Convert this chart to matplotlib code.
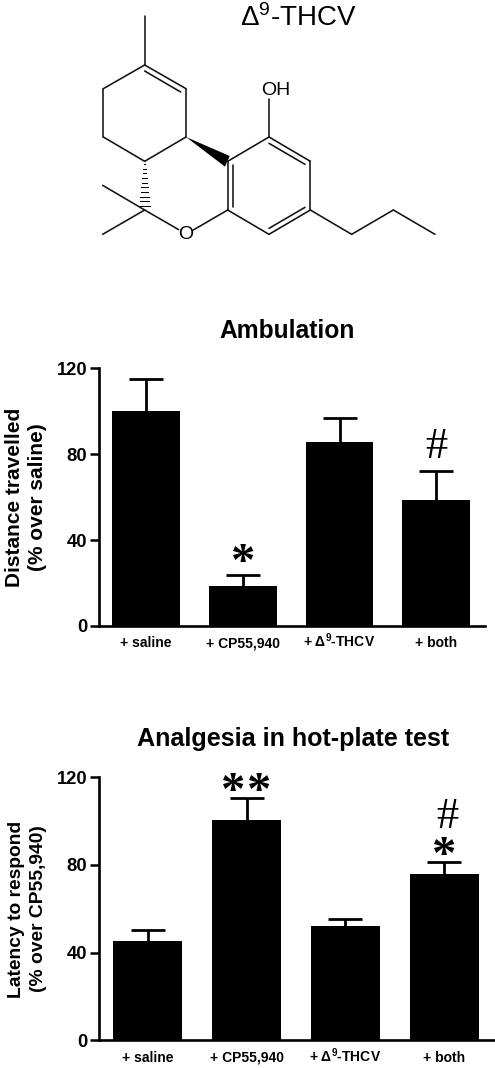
import numpy as np
import matplotlib
matplotlib.use("Agg")
import matplotlib.pyplot as plt

plt.rcParams["font.family"] = ["Liberation Sans", "DejaVu Sans"]
plt.rcParams["mathtext.fontset"] = "custom"
plt.rcParams["mathtext.rm"] = "Liberation Sans"
plt.rcParams["mathtext.bf"] = "Liberation Sans:bold"
plt.rcParams["mathtext.default"] = "regular"

W, H = 495, 1068

categories = ["+ saline", "+ CP55,940", "+ \u0394$^{\\mathbf{9}}$-THCV", "+ both"]
y_ticks = [0, 40, 80, 120]

ambulation = [100, 18.5, 85.5, 58.5]
ambulation_err = [15, 5.3, 11.2, 13.5]
ambulation_marks = [None, "*", None, "#"]

analgesia = [45.3, 100.3, 52, 76]
analgesia_err = [5, 10.1, 3.5, 5.2]
analgesia_marks = [None, "**", None, "#*"]

# molecule drawing, in pixels of the crop at 3x
ring_bonds = [
    ((254, 48), (254, 195)), ((254, 195), (378, 266)), ((378, 266), (378, 411)),
    ((378, 411), (254, 484)), ((254, 484), (130, 411)), ((130, 411), (130, 266)),
    ((130, 266), (254, 195)), ((254, 213), (362, 276)),
    ((254, 630), (128, 556)), ((254, 630), (128, 703)), ((254, 630), (356, 689)),
    ((400, 690), (503, 630)),
    ((503, 484), (627, 411)), ((627, 411), (751, 484)), ((751, 484), (751, 630)),
    ((751, 630), (627, 703)), ((627, 703), (503, 630)), ((503, 630), (503, 484)),
    ((627, 430), (735, 493)), ((735, 622), (627, 685)), ((518, 495), (518, 620)),
    ((627, 411), (627, 298)),
    ((751, 630), (875, 703)), ((875, 703), (1000, 630)), ((1000, 630), (1125, 703)),
]
wedge = [(378, 411), (509, 468), (495, 500)]
hash_top = (254, 484)
hash_bottom = (254, 618)


def crop_px(p):
    return p[0] / 3 + 60, p[1] / 3


def put_mark(ax, x, base, text, dx, dy, size, weight="normal"):
    ax.annotate(text, (x, base), xytext=(dx, dy), textcoords="offset points", ha="center",
                va="baseline", fontsize=size, fontweight=weight, family="Liberation Serif",
                annotation_clip=False)


def add_panel(fig, box, xlim, values, errs, marks, width, star_dy):
    left, right, bottom, top = box
    ax = fig.add_axes([left / W, 1 - bottom / H, (right - left) / W, (bottom - top) / H])
    ax.patch.set_alpha(0)
    x = np.arange(len(values))
    tops = np.array(values) + np.array(errs)
    ax.bar(x, values, width=width, color="black", zorder=3)
    ax.vlines(x, values, tops, color="black", lw=2, zorder=2)
    ax.plot(x, tops, ls="none", marker="_", ms=25, mew=2, color="black", clip_on=False, zorder=2)
    ax.set_xlim(*xlim)
    ax.set_ylim(0, 120)
    ax.set_xticks([])
    ax.set_yticks(y_ticks)
    ax.tick_params(axis="y", length=6.5, width=1.8, pad=2, labelsize=13.2)
    for label in ax.get_yticklabels():
        label.set_fontweight("bold")
    for side in ["top", "right"]:
        ax.spines[side].set_visible(False)
    for side in ["left", "bottom"]:
        ax.spines[side].set_linewidth(1.9)
    for i, name in enumerate(categories):
        ax.annotate(name, (x[i], 0), xytext=(0, -15.3), textcoords="offset points", ha="center",
                    va="baseline", fontsize=10, fontweight="bold", annotation_clip=False)
    for i, mark in enumerate(marks):
        if mark == "*":
            put_mark(ax, x[i], tops[i], "*", 0, star_dy, 35, "bold")
        elif mark == "**":
            put_mark(ax, x[i], tops[i], "*", -9.4, star_dy, 35, "bold")
            put_mark(ax, x[i], tops[i], "*", 9.4, star_dy, 35, "bold")
        elif mark == "#":
            put_mark(ax, x[i], tops[i], "#", 0, 9.6, 32)
        elif mark == "#*":
            put_mark(ax, x[i], tops[i], "*", 0, star_dy, 35, "bold")
            put_mark(ax, x[i], tops[i], "#", 2, 24.5, 32)
    return ax


fig = plt.figure(figsize=(W / 100, H / 100), dpi=100)

# molecule
mol = fig.add_axes([0, 0, 1, 1])
mol.set_xlim(0, W)
mol.set_ylim(H, 0)
mol.axis("off")
for a, b in ring_bonds:
    ax_, ay_ = crop_px(a)
    bx_, by_ = crop_px(b)
    mol.plot([ax_, bx_], [ay_, by_], color="#111111", lw=1.15, solid_capstyle="round")
mol.fill(*zip(*[crop_px(p) for p in wedge]), color="black", lw=0)
for t in np.linspace(0.06, 1, 10):
    cx, cy = crop_px((hash_top[0], hash_top[1] + t * (hash_bottom[1] - hash_top[1])))
    half = 0.5 + 4.8 * t
    mol.plot([cx - half, cx + half], [cy, cy], color="black", lw=0.75)
ox, oy = crop_px((377, 704))
mol.text(ox, oy, "O", ha="center", va="center", fontsize=14)
hx, hy = crop_px((647, 271))
mol.text(hx, hy, "OH", ha="center", va="center", fontsize=14)
mol.text(299, 26, "\u0394$^{9}$-THCV", ha="center", va="baseline", fontsize=20)

add_panel(fig, (99, 485, 626, 368.3), (-0.488, 3.505), ambulation, ambulation_err, ambulation_marks, 0.70, -0.5)
add_panel(fig, (99.3, 494, 1040.3, 777.3), (-0.491, 3.504), analgesia, analgesia_err, analgesia_marks, 0.70, -5.1)

fig.text(287 / W, 1 - 338 / H, "Ambulation", ha="center", va="baseline", fontsize=17.7, fontweight="bold")
fig.text(292.7 / W, 1 - 745.7 / H, "Analgesia in hot-plate test", ha="center", va="baseline",
         fontsize=18.1, fontweight="bold")

fig.text(26 / W, 1 - 497.5 / H, "Distance travelled\n(% over saline)", rotation=90, ha="center", va="center",
         ma="center", fontsize=15, fontweight="bold", linespacing=1.3)
fig.text(27.5 / W, 1 - 909 / H, "Latency to respond\n(% over CP55,940)", rotation=90, ha="center", va="center",
         ma="center", fontsize=13.9, fontweight="bold", linespacing=1.35)

fig.savefig("out.png", dpi=100)
